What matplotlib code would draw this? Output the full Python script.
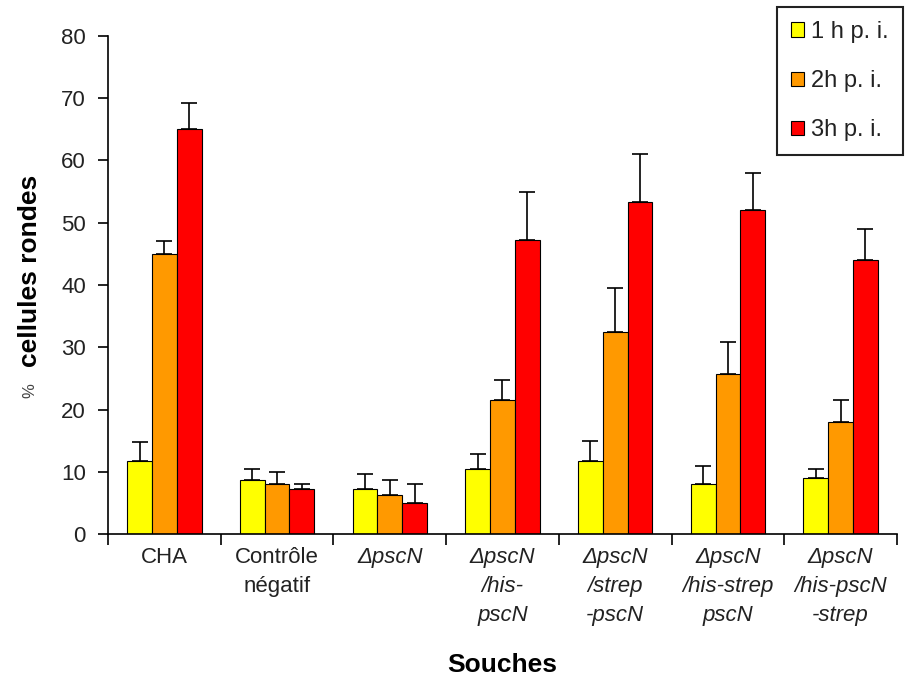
import numpy as np
import matplotlib.pyplot as plt

plt.rcParams['font.family'] = ['Liberation Sans', 'DejaVu Sans']

souches = ["CHA", "Contrôle\nnégatif", "ΔpscN", "ΔpscN\n/his-\npscN",
           "ΔpscN\n/strep\n-pscN", "ΔpscN\n/his-strep\npscN", "ΔpscN\n/his-pscN\n-strep"]
italique = [False, False, True, True, True, True, True]

h1 = [11.7, 8.7, 7.3, 10.5, 11.8, 8.0, 9.0]
h1_err = [3.1, 1.8, 2.4, 2.3, 3.2, 3.0, 1.5]
h2 = [45.0, 8.0, 6.3, 21.5, 32.5, 25.7, 18.0]
h2_err = [2.0, 2.0, 2.4, 3.3, 7.0, 5.1, 3.5]
h3 = [65.0, 7.3, 5.0, 47.3, 53.3, 52.0, 44.0]
h3_err = [4.2, 0.8, 3.0, 7.7, 7.7, 6.0, 5.0]

series = [("1 h p. i.", h1, h1_err, "#FFFF00"),
          ("2h p. i.", h2, h2_err, "#FF9900"),
          ("3h p. i.", h3, h3_err, "#FF0000")]

fig = plt.figure(figsize=(9.09, 6.79), dpi=100)
ax = fig.add_axes([0.1188, 0.2135, 0.868, 0.7335])

x = np.arange(len(souches))
w = 0.22
for i, (nom, vals, err, col) in enumerate(series):
    ax.bar(x + (i - 1) * w, vals, w, color=col, edgecolor="black", linewidth=0.8,
           label=nom, yerr=[np.zeros(len(err)), err],
           error_kw=dict(ecolor="black", elinewidth=1.2, capsize=6, capthick=1.2))

ax.set_xlim(-0.5, 6.5)
ax.set_ylim(0, 80)
ax.set_yticks(np.arange(0, 81, 10))
ax.tick_params(axis="y", labelsize=16, direction="out", length=7, width=1.2,
               labelcolor="#222222", pad=9)
ax.set_xticks(np.arange(-0.5, 7, 1))
ax.set_xticklabels([])
ax.tick_params(axis="x", which="major", direction="out", length=8, width=1.2)
ax.set_xticks(x, minor=True)
ax.set_xticklabels(souches, minor=True, fontsize=16, linespacing=1.5, color="#222222")
ax.tick_params(axis="x", which="minor", length=0, pad=9)
for lab, it in zip(ax.get_xticklabels(minor=True), italique):
    if it:
        lab.set_fontstyle("italic")

for s in ["top", "right"]:
    ax.spines[s].set_visible(False)
for s in ["left", "bottom"]:
    ax.spines[s].set_linewidth(1.2)

fig.text(0.552, 0.021, "Souches", fontsize=19, fontweight="bold", ha="center", va="center")
fig.text(0.033, 0.601, "cellules rondes", fontsize=19, fontweight="bold",
         rotation=90, ha="center", va="center")
fig.text(0.033, 0.425, "%", fontsize=12, color="#444444", rotation=90, ha="center", va="center")

leg = fig.legend(loc="upper left", bbox_to_anchor=(0.855, 0.99), fontsize=17,
                 handlelength=0.55, handleheight=0.55, handletextpad=0.3,
                 labelspacing=1.15, fancybox=False, edgecolor="#222222",
                 borderpad=0.6, borderaxespad=0, framealpha=1)
leg.get_frame().set_linewidth(1.5)
for t in leg.get_texts():
    t.set_color("#222222")

fig.savefig("out.png", dpi=100)
